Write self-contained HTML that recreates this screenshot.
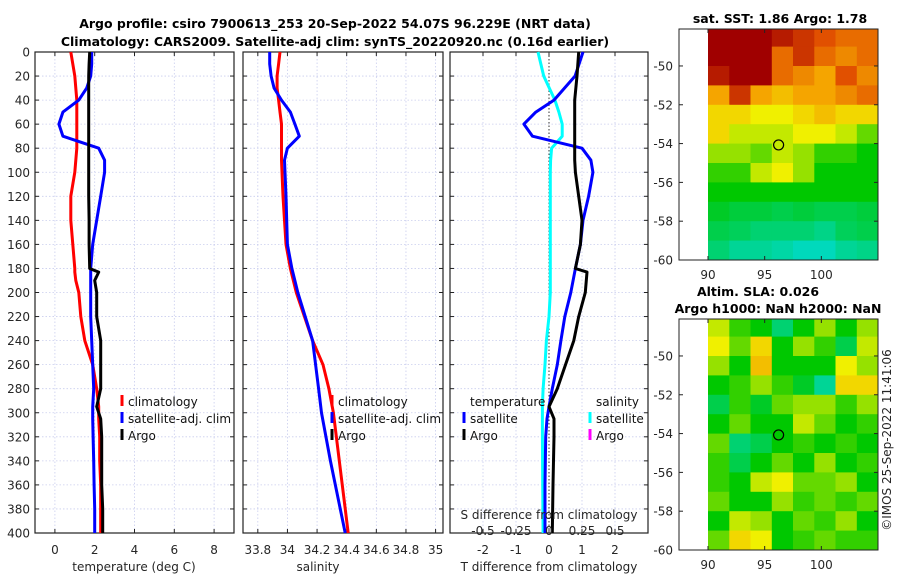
<!DOCTYPE html>
<html><head><meta charset="utf-8">
<style>
html,body{margin:0;padding:0;background:#fff;}
svg{display:block;font-family:"DejaVu Sans","Liberation Sans",sans-serif;}
</style></head>
<body>
<svg id="fig" width="900" height="580" viewBox="0 0 900 580" xmlns="http://www.w3.org/2000/svg">
<text x="335" y="28" text-anchor="middle" font-size="12.5" font-weight="bold">Argo profile: csiro 7900613_253 20-Sep-2022 54.07S 96.229E (NRT data)</text>
<text x="335" y="46" text-anchor="middle" font-size="12.5" font-weight="bold">Climatology: CARS2009. Satellite-adj clim: synTS_20220920.nc (0.16d earlier)</text>
<g id="layer"></g>
</svg>
<script>
// ---------- data ----------
const depthT = [0,10,20,30,40,50,60,70,80,90,100,120,140,160,180,183,190,200,220,240,260,280,295,305,320,340,360,380,400];
const tempClim = [0.8,0.9,1.0,1.05,1.1,1.1,1.1,1.1,1.1,1.05,1.0,0.8,0.8,0.9,1.0,1.0,1.05,1.2,1.3,1.5,1.9,2.1,2.2,2.2,2.25,2.25,2.3,2.3,2.3];
const tempSat = [1.85,1.85,1.8,1.6,1.2,0.4,0.2,0.4,2.2,2.5,2.5,2.3,2.1,1.9,1.8,1.8,1.8,1.8,1.8,1.85,1.9,1.95,1.9,1.9,1.92,1.95,1.97,2.0,2.0];
const tempArgo = [1.75,1.72,1.7,1.7,1.7,1.7,1.7,1.7,1.7,1.7,1.7,1.7,1.72,1.72,1.75,2.2,2.0,2.1,2.1,2.3,2.3,2.3,2.1,2.3,2.35,2.35,2.35,2.4,2.4];
const depthS = [0,10,20,30,40,50,60,70,80,90,120,160,180,200,240,260,280,300,340,400];
const salClim = [33.95,33.94,33.93,33.93,33.94,33.95,33.96,33.96,33.96,33.96,33.97,33.99,34.02,34.06,34.17,34.24,34.28,34.31,34.35,34.41];
const salSat = [33.88,33.88,33.89,33.91,33.96,34.02,34.05,34.08,34.0,33.98,33.99,34.0,34.03,34.07,34.17,34.19,34.21,34.23,34.29,34.39];
const depthD = [0,20,40,50,60,70,80,90,100,120,140,160,180,183,200,220,240,260,280,295,305,320,360,400];
const tDiffSat = [1.03,0.79,0.15,-0.4,-0.76,-0.5,1.0,1.27,1.33,1.2,1.03,0.95,0.8,0.78,0.66,0.48,0.36,0.25,0.1,0.0,-0.06,-0.1,-0.12,-0.12];
const tDiffArgo = [0.9,0.85,0.78,0.78,0.78,0.78,0.78,0.78,0.8,0.9,1.0,0.95,0.8,1.15,1.1,0.9,0.75,0.5,0.25,0.0,0.15,0.15,0.12,0.1];
const sDiffSat = [-0.083,-0.04,0.045,0.075,0.1,0.1,0.02,0.012,0.01,0.01,0.01,0.01,0.01,0.01,0.01,0.0,-0.02,-0.03,-0.045,-0.05,-0.05,-0.05,-0.048,-0.045];
const depthTicks = [0,20,40,60,80,100,120,140,160,180,200,220,240,260,280,300,320,340,360,380,400];
const tempTicks = [0,2,4,6,8];
const salTicks = [33.8,34,34.2,34.4,34.6,34.8,35];
const salTickLabels = ["33.8","34","34.2","34.4","34.6","34.8","35"];
const tdTicks = [-2,-1,0,1,2];
const sdTicks = [-0.5,-0.25,0,0.25,0.5];
const sdTickLabels = ["-0.5","-0.25","0","0.25","0.5"];
const lonTicks = [90,95,100];
const latTicks = [-50,-52,-54,-56,-58,-60];
const sstGrid = [
[1,1,1,0.95,0.9,0.85,0.8,0.8],
[1,1,1,0.8,0.9,0.8,0.75,0.8],
[0.95,1,1,0.8,0.75,0.7,0.85,0.75],
[0.7,0.9,0.7,0.65,0.7,0.7,0.75,0.8],
[0.6,0.6,0.55,0.55,0.6,0.65,0.6,0.6],
[0.6,0.5,0.5,0.5,0.55,0.55,0.5,0.4],
[0.45,0.45,0.4,0.5,0.45,0.35,0.35,0.3],
[0.35,0.35,0.5,0.55,0.45,0.3,0.3,0.3],
[0.3,0.3,0.3,0.3,0.3,0.3,0.3,0.3],
[0.25,0.22,0.22,0.2,0.22,0.2,0.2,0.22],
[0.2,0.18,0.15,0.15,0.15,0.12,0.18,0.2],
[0.15,0.1,0.1,0.08,0.05,0.05,0.1,0.12]];
const slaGrid = [
[0.5,0.35,0.3,0.15,0.3,0.45,0.3,0.45],
[0.55,0.4,0.6,0.3,0.45,0.35,0.2,0.5],
[0.45,0.3,0.65,0.3,0.3,0.3,0.55,0.45],
[0.3,0.35,0.45,0.35,0.25,0.1,0.6,0.6],
[0.2,0.35,0.25,0.4,0.45,0.45,0.35,0.45],
[0.3,0.4,0.3,0.3,0.5,0.4,0.3,0.35],
[0.4,0.15,0.2,0.3,0.35,0.3,0.35,0.3],
[0.35,0.2,0.3,0.4,0.3,0.45,0.3,0.35],
[0.35,0.3,0.5,0.55,0.4,0.4,0.45,0.3],
[0.4,0.3,0.3,0.45,0.35,0.4,0.35,0.4],
[0.3,0.5,0.45,0.3,0.4,0.35,0.45,0.3],
[0.4,0.6,0.55,0.3,0.35,0.4,0.35,0.35]];
const argoLon = 96.229, argoLat = -54.07;

// ---------- helpers ----------
const NS = "http://www.w3.org/2000/svg";
const layer = document.getElementById('layer');
function mk(tag, attrs, parent){ const e=document.createElementNS(NS,tag); for(const k in attrs) e.setAttribute(k,attrs[k]); (parent||layer).appendChild(e); return e; }
function txt(x,y,s,attrs,parent){ const e=mk('text',Object.assign({x:x,y:y,'font-size':12,fill:'#262626'},attrs||{}),parent); e.textContent=s; return e; }
const Y0=52, Y1=533;
const yD = d => Y0 + (d/400)*(Y1-Y0);
function lin(d0,d1,r0,r1){ return v => r0 + (v-d0)/(d1-d0)*(r1-r0); }

function panel(name, x0, x1, xs, ticks, labels, showY){
  const g = mk('g',{});
  
  
  depthTicks.forEach(d=>{ const l=mk('line',{x1:x0,x2:x1,y1:yD(d),y2:yD(d),stroke:'#c9cdee','stroke-width':0.8,'stroke-dasharray':'1.5,2'},g);
      });
  ticks.forEach(t=>{ const l=mk('line',{x1:xs(t),x2:xs(t),y1:Y0,y2:Y1,stroke:'#c9cdee','stroke-width':0.8,'stroke-dasharray':'1.5,2'},g);
      });
  depthTicks.forEach(d=>{ mk('line',{x1:x0,x2:x0+4,y1:yD(d),y2:yD(d),stroke:'#222'},g); mk('line',{x1:x1-4,x2:x1,y1:yD(d),y2:yD(d),stroke:'#222'},g);
    if(showY){ const t=txt(30,yD(d)+4.5,String(d),{'text-anchor':'end'},g);   } });
  ticks.forEach((t,i)=>{ mk('line',{x1:xs(t),x2:xs(t),y1:Y1,y2:Y1-4,stroke:'#222'},g); mk('line',{x1:xs(t),x2:xs(t),y1:Y0,y2:Y0+4,stroke:'#222'},g);
    const l=txt(xs(t),554,labels[i],{'text-anchor':'middle'},g);   });
  const fr=mk('rect',{x:x0,y:Y0,width:x1-x0,height:Y1-Y0,fill:'none',stroke:'#222','stroke-width':1.2},g);
   
  return g;
}
function line(g, xs, xv, dv, color, name, w){
  const pts = xv.map((v,i)=>xs(v).toFixed(1)+','+yD(dv[i]).toFixed(1)).join(' ');
  const p = mk('polyline',{points:pts,fill:'none',stroke:color,'stroke-width':w||3,'stroke-linejoin':'round'},g);
  
  
}
function legendEntry(g,x,y,color,label,name){
  const e = mk('g',{},g);
  
  
  mk('line',{x1:x,x2:x,y1:y-11,y2:y,stroke:color,'stroke-width':3},e);
  txt(x+6,y,label,{fill:'#111'},e);
}

// ---------- panel 1: temperature ----------
const xT = lin(-1,9,35,234);
const g1 = panel('temperature-panel',35,234,xT,tempTicks,tempTicks.map(String),true);
line(g1,xT,tempClim,depthT,'#ff0000','temp-climatology-line');
line(g1,xT,tempSat,depthT,'#0000ff','temp-satellite-line');
line(g1,xT,tempArgo,depthT,'#000000','temp-argo-line');
txt(134,571,'temperature (deg C)',{'text-anchor':'middle'},g1);
legendEntry(g1,122,406,'#ff0000','climatology','legend-climatology');
legendEntry(g1,122,423,'#0000ff','satellite-adj. clim','legend-satellite');
legendEntry(g1,122,440,'#000000','Argo','legend-argo');

// ---------- panel 2: salinity ----------
const xS = lin(33.7,35.05,243,443);
const g2 = panel('salinity-panel',243,443,xS,salTicks,salTickLabels,false);
line(g2,xS,salClim,depthS,'#ff0000','sal-climatology-line');
line(g2,xS,salSat,depthS,'#0000ff','sal-satellite-line');
txt(318,571,'salinity',{'text-anchor':'middle'},g2);
legendEntry(g2,332,406,'#ff0000','climatology','legend-climatology-s');
legendEntry(g2,332,423,'#0000ff','satellite-adj. clim','legend-satellite-s');
legendEntry(g2,332,440,'#000000','Argo','legend-argo-s');

// ---------- panel 3: differences ----------
const xD = lin(-3,3,450,648);
const xSD = lin(-0.75,0.75,450,648);
const g3 = panel('difference-panel',450,648,xD,tdTicks,tdTicks.map(String),false);
mk('line',{x1:xD(0),x2:xD(0),y1:Y0,y2:Y1,stroke:'#333','stroke-width':1,'stroke-dasharray':'1.5,2'},g3);
line(g3,xSD,sDiffSat,depthD,'#00ffff','sdiff-satellite-line');
line(g3,xD,tDiffSat,depthD,'#0000ff','tdiff-satellite-line');
line(g3,xD,tDiffArgo,depthD,'#000000','tdiff-argo-line');
txt(549,571,'T difference from climatology',{'text-anchor':'middle'},g3);
txt(549,519,'S difference from climatology',{'text-anchor':'middle'},g3);
sdTicks.forEach((t,i)=>{ const l=txt(xSD(t),535,sdTickLabels[i],{'text-anchor':'middle'},g3);   });
txt(470,406,'temperature',{fill:'#111'},g3);
legendEntry(g3,464,423,'#0000ff','satellite','legend-t-satellite');
legendEntry(g3,464,440,'#000000','Argo','legend-t-argo');
txt(596,406,'salinity',{fill:'#111'},g3);
legendEntry(g3,590,423,'#00ffff','satellite','legend-s-satellite');
legendEntry(g3,590,440,'#ff00ff','Argo','legend-s-argo');

// ---------- maps ----------
const stops=[[0,[0,220,225]],[0.3,[0,200,0]],[0.45,[150,225,0]],[0.55,[240,240,0]],[0.7,[245,165,0]],[0.85,[225,80,0]],[1,[160,0,0]]];
function cmap(v){ for(let i=1;i<stops.length;i++){ if(v<=stops[i][0]){ const a=stops[i-1],b=stops[i],f=(v-a[0])/(b[0]-a[0]); const c=a[1].map((x,k)=>Math.round(x+(b[1][k]-x)*f)); return 'rgb('+c.join(',')+')'; } } return 'rgb(160,0,0)'; }
function map(name, top, bot, grid, titleLines){
  const g = mk('g',{});
  
  
  const xL = lin(87.44,105,679,878);
  const yL = lin(-50,-60,top+(bot-top)*0.16,bot);
  const clipId = name+'-clip';
  const cp = mk('clipPath',{id:clipId},g); mk('rect',{x:679,y:top,width:199,height:bot-top},cp);
  const cg = mk('g',{'clip-path':'url(#'+clipId+')'},g);
  const nc=grid[0].length;
  grid.forEach((row,r)=>row.forEach((v,c)=>{
    const lon0=90+c*15/nc, lon1=90+(c+1)*15/nc, la0=-48-r, la1=-48-(r+1);
    const x0=xL(lon0), x1=xL(lon1), y0=yL(la0), y1=yL(la1);
    const cell=mk('rect',{x:x0.toFixed(1),y:y0.toFixed(1),width:(x1-x0+0.6).toFixed(1),height:(y1-y0+0.6).toFixed(1),fill:cmap(v)},cg);
    
    
  }));
  const ring=mk('circle',{cx:xL(argoLon),cy:yL(argoLat),r:5,fill:'none',stroke:'#000','stroke-width':1.2},g);
  
  
  mk('rect',{x:679,y:top,width:199,height:bot-top,fill:'none',stroke:'#222','stroke-width':1},g);
  latTicks.forEach(l=>{ mk('line',{x1:679,x2:683,y1:yL(l),y2:yL(l),stroke:'#222'},g); mk('line',{x1:874,x2:878,y1:yL(l),y2:yL(l),stroke:'#222'},g);
    const t=txt(673,yL(l)+4.5,String(l),{'text-anchor':'end'},g);   });
  lonTicks.forEach(l=>{ mk('line',{x1:xL(l),x2:xL(l),y1:bot,y2:bot-4,stroke:'#222'},g); mk('line',{x1:xL(l),x2:xL(l),y1:top,y2:top+4,stroke:'#222'},g);
    const t=txt(xL(l),bot+19,String(l),{'text-anchor':'middle'},g);   });
  titleLines.forEach(tl=>{ const t=txt(tl[0],tl[1],tl[2],{'text-anchor':'middle','font-weight':'bold',fill:'#000','font-size':12.5},g);   });
}
map('sst-map',29,260,sstGrid,[[780,23,'sat. SST: 1.86 Argo: 1.78']]);
map('sla-map',319,550,slaGrid,[[758,296,'Altim. SLA: 0.026'],[778,313,'Argo h1000: NaN h2000: NaN']]);
const cr = txt(0,0,'©IMOS 25-Sep-2022 11:41:06',{'text-anchor':'middle',transform:'translate(891,440) rotate(-90)'});


</script>
</body></html>
